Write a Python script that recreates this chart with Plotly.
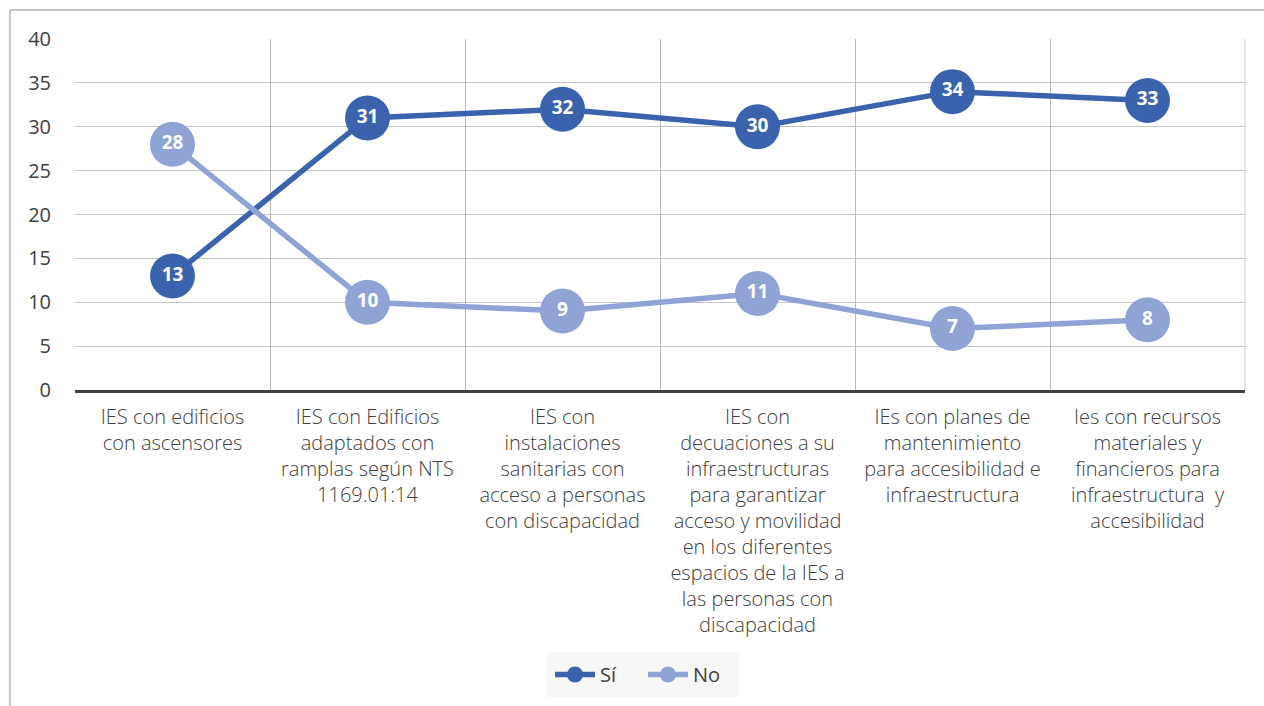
import plotly.graph_objects as go

categories = [
    "IES con edificios<br>con ascensores",
    "IES con Edificios<br>adaptados con<br>ramplas según NTS<br>1169.01:14",
    "IES con<br>instalaciones<br>sanitarias con<br>acceso a personas<br>con discapacidad",
    "IES con<br>decuaciones a su<br>infraestructuras<br>para garantizar<br>acceso y movilidad<br>en los diferentes<br>espacios de la IES a<br>las personas con<br>discapacidad",
    "IEs con planes de<br>mantenimiento<br>para accesibilidad e<br>infraestructura",
    "Ies con recursos<br>materiales y<br>financieros para<br>infraestructura  y<br>accesibilidad",
]
si_values = [13, 31, 32, 30, 34, 33]
no_values = [28, 10, 9, 11, 7, 8]
y_ticks = [0, 5, 10, 15, 20, 25, 30, 35, 40]

SI_COLOR = "#3B62AC"
NO_COLOR = "#8FA4D5"

fig = go.Figure()
for name, vals, col in [("Sí", si_values, SI_COLOR), ("No", no_values, NO_COLOR)]:
    fig.add_trace(go.Scatter(
        x=categories, y=vals, name=name, mode="lines+markers+text",
        line=dict(color=col, width=5.5),
        marker=dict(color=col, size=45),
        text=[str(v) for v in vals], textposition="middle center",
        textfont=dict(color="white", size=19, family="Open Sans", weight="bold"),
        cliponaxis=False,
    ))

fig.update_layout(
    width=1264, height=706,
    margin=dict(l=75, r=19, t=39, b=316),
    paper_bgcolor="white", plot_bgcolor="white",
    showlegend=True,
    legend=dict(
        orientation="h", xref="container", x=0.5087, xanchor="center",
        yref="container", y=0.0765, yanchor="top",
        bgcolor="#F7F7F7", bordercolor="#F7F7F7", borderwidth=3,
        font=dict(family="Open Sans", size=20, color="#404040"),
        itemwidth=40, tracegroupgap=0, entrywidth=38,
    ),
    xaxis=dict(
        type="category", range=[-0.5, 5.5], tickson="boundaries", showgrid=True,
        gridcolor="#B8B8B8", gridwidth=1, automargin=False,
        ticks="", showline=True, linecolor="#404040", linewidth=3,
        tickfont=dict(family="Open Sans", size=20, color="#404040", weight=300),
        ticklabelstandoff=7, fixedrange=True,
    ),
    yaxis=dict(
        range=[0, 40], tickvals=y_ticks, showgrid=True, gridcolor="#C4C4C4", gridwidth=1,
        zeroline=False, showline=False, ticks="", automargin=False,
        tickfont=dict(family="Open Sans", size=20, color="#404040"),
        ticklabelstandoff=23, fixedrange=True,
    ),
    shapes=[
        dict(type="line", xref="paper", yref="paper", x0=-0.0556, x1=1.2, y0=1.0826, y1=1.0826,
             line=dict(color="#C6C6C6", width=2)),
        dict(type="line", xref="paper", yref="paper", x0=-0.0556, x1=-0.0556, y0=1.0826, y1=-1.0,
             line=dict(color="#C6C6C6", width=2)),
        dict(type="line", xref="paper", yref="paper", x0=1.0, x1=1.0, y0=0, y1=1,
             line=dict(color="#D0D0D0", width=1)),
    ],
)

fig.write_html(
    "out.html",
    config={"displayModeBar": False, "staticPlot": True},
    post_script="document.body.style.margin='0';document.body.style.overflow='hidden';",
)
